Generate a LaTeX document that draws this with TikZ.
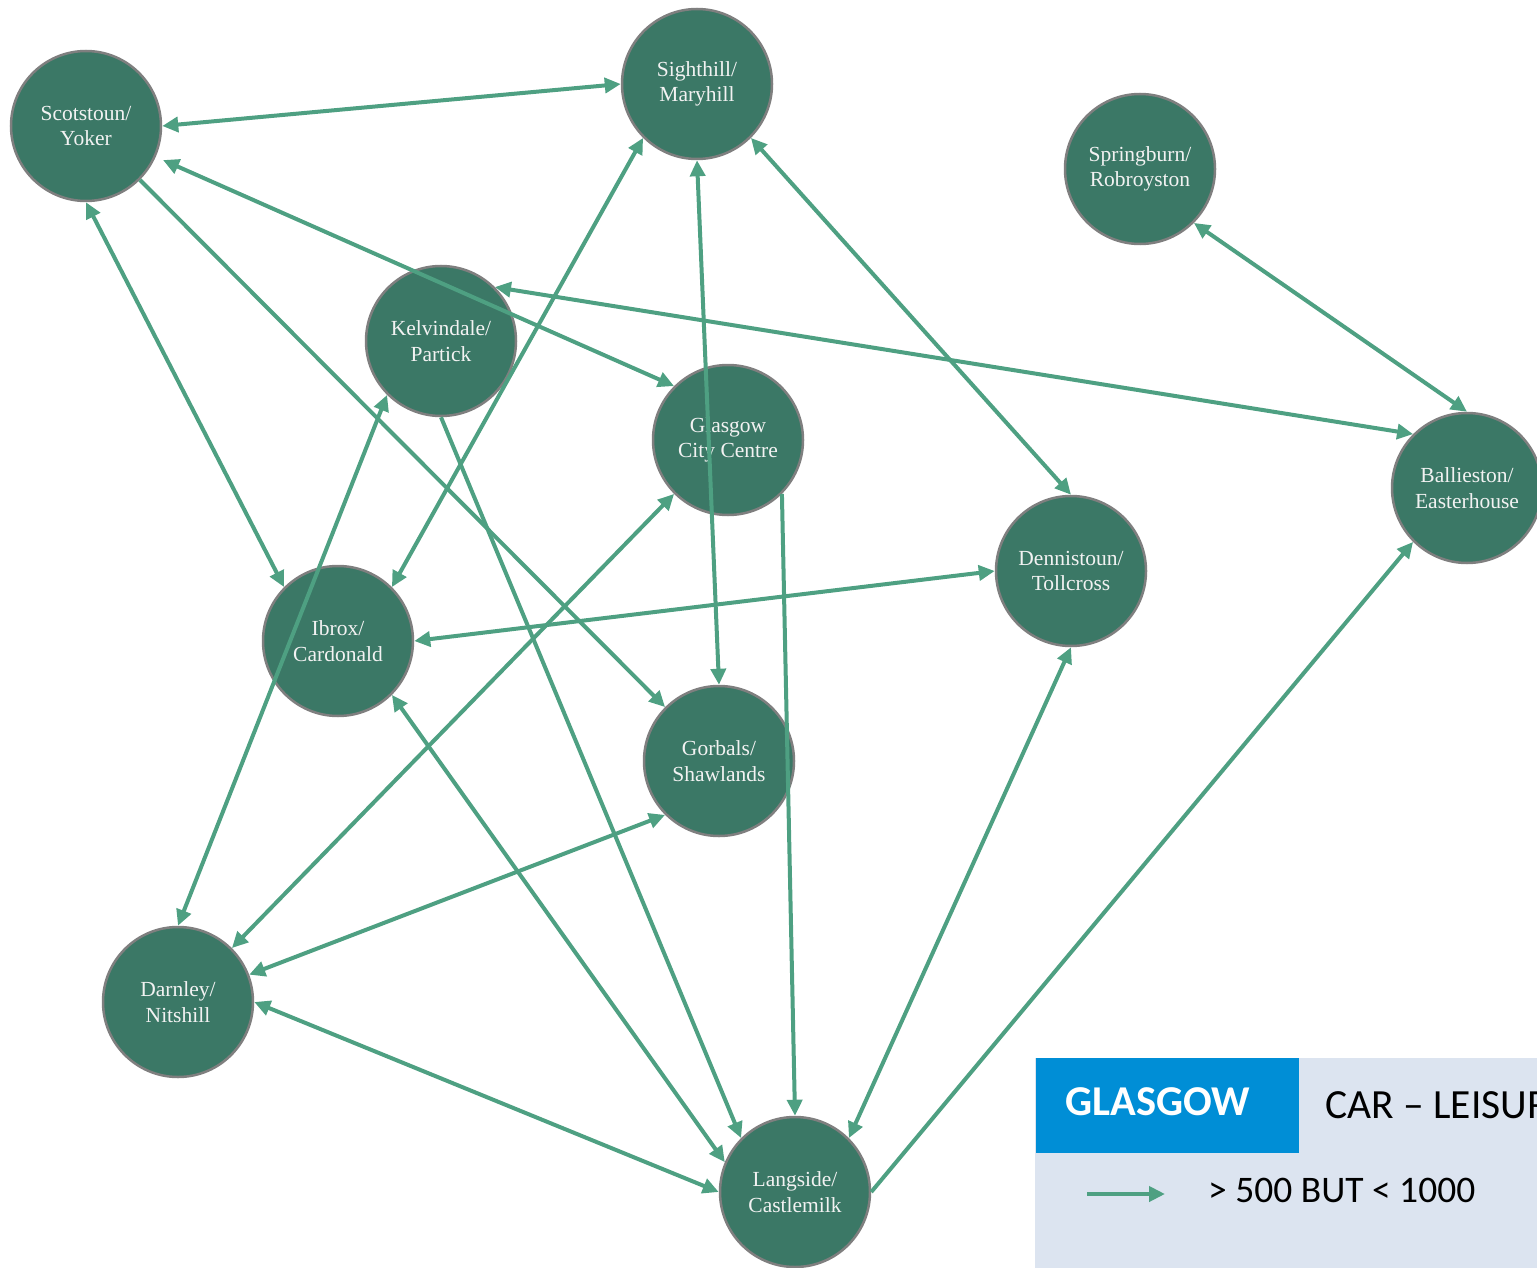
\documentclass[tikz,border=0pt]{standalone}
\usepackage{fontspec}
\setmainfont{Liberation Serif}
\newfontfamily\calibri{Carlito}
\usetikzlibrary{arrows.meta}
\definecolor{cityfill}{HTML}{3B7866}
\definecolor{cityline}{HTML}{7F7F7F}
\definecolor{edgecol}{HTML}{4EA082}
\definecolor{legbg}{HTML}{DCE4F0}
\definecolor{legblue}{HTML}{008ED6}
\definecolor{citytext}{HTML}{F2F2F2}
\tikzset{
  city/.style={circle, minimum size=150pt, inner sep=0pt, fill=cityfill, draw=cityline,
    line width=2.5pt, text=citytext, align=center, font=\fontsize{21.5}{25.5}\selectfont},
  edge/.style={draw=edgecol, line width=4pt},
  legtext/.style={inner sep=0pt, anchor=base west},
}
\begin{document}
\begin{tikzpicture}[x=1pt,y=-1pt,>={Triangle[length=16pt,width=15pt]}]
\useasboundingbox (0,0) rectangle (1537,1268);
% nodes
\node[city] (scot)  at (86,126)   {Scotstoun/\\Yoker};
\node[city] (sight) at (697,84)   {Sighthill/\\Maryhill};
\node[city] (spring) at (1140,169) {Springburn/\\Robroyston};
\node[city] (kelv)  at (441,341)  {Kelvindale/\\Partick};
\node[city] (glas)  at (728,440)  {Glasgow\\City Centre};
\node[city] (ball)  at (1467,488) {Ballieston/\\Easterhouse};
\node[city] (denn)  at (1071,571) {Dennistoun/\\Tollcross};
\node[city] (ibrox) at (338,641)  {Ibrox/\\Cardonald};
\node[city] (gorb)  at (719,761)  {Gorbals/\\Shawlands};
\node[city] (darn)  at (178,1002) {Darnley/\\Nitshill};
\node[city] (lang)  at (795,1192) {Langside/\\Castlemilk};
% connectors
\draw[edge,<->] (scot.east) -- (sight.west);
\draw[edge,<->,shorten >=8pt] (glas.north west) -- (scot);
\draw[edge,<->] (scot.south) -- (ibrox.north west);
\draw[edge,->] (scot.south east) -- (gorb.north west);
\draw[edge,<->] (sight.south west) -- (ibrox.north east);
\draw[edge,<->] (sight.south) -- (gorb.north);
\draw[edge,<->] (sight.south east) -- (denn.north);
\draw[edge,<->] (spring.south east) -- (ball.north);
\draw[edge,<->] (kelv.north east) -- (ball.north west);
\draw[edge,->] (kelv.south) -- (lang.north west);
\draw[edge,<->] (kelv.south west) -- (darn.north);
\draw[edge,<->] (glas.south west) -- (darn.north east);
\draw[edge,->] (glas.south east) -- (lang.north);
\draw[edge,<->] (ibrox.east) -- (denn.west);
\draw[edge,<->] (ibrox.south east) -- (lang.157);
\draw[edge,<->] (gorb.south west) -- (darn.21);
\draw[edge,<->] (darn.east) -- (lang.west);
\draw[edge,<->] (denn.south) -- (lang.north east);
\draw[edge,->] (lang.east) -- (ball.south west);
% legend
\fill[legbg] (1035,1058) rectangle (1537,1268);
\fill[legblue] (1036,1058) rectangle (1299,1153);
\node[legtext, text=white, font=\calibri\bfseries\fontsize{42.5}{48}\selectfont] (legtitle) at (1065,1115) {GLASGOW};
\node[legtext, text=black, font=\calibri\fontsize{41.5}{46}\selectfont] (legmode) at (1325,1118) {CAR – LEISURE};
\coordinate (la) at (1087,1194);
\coordinate (lb) at (1165,1194);
\draw[edge,->] (la) -- (lb);
\node[legtext, text=black, font=\calibri\fontsize{37.5}{42}\selectfont] (legval) at (1208,1202) {> 500 BUT < 1000};
\end{tikzpicture}
\end{document}
